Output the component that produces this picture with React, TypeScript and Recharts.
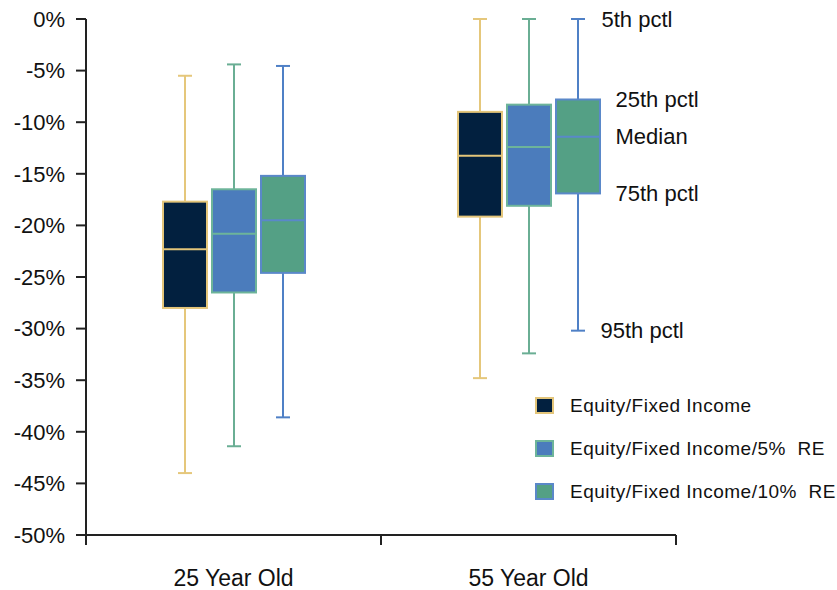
import React from 'react';
import { ComposedChart, Bar, XAxis, YAxis, ReferenceDot, Legend } from 'recharts';

const categories = ['25 Year Old', '55 Year Old'];
const seriesNames = ['Equity/Fixed Income', 'Equity/Fixed Income/5%  RE', 'Equity/Fixed Income/10%  RE'];
// per category: [5th pctl (top whisker), 25th pctl (box top), median, 75th pctl (box bottom), 95th pctl (bottom whisker)]
const eqFixed = [
  [-5.5, -17.7, -22.3, -28.0, -44.0],
  [0, -9.0, -13.25, -19.15, -34.8],
];
const eqFixed5RE = [
  [-4.4, -16.5, -20.8, -26.5, -41.4],
  [0, -8.3, -12.4, -18.1, -32.4],
];
const eqFixed10RE = [
  [-4.55, -15.2, -19.5, -24.6, -38.6],
  [0, -7.8, -11.4, -16.9, -30.2],
];
const yTicks = [-50, -45, -40, -35, -30, -25, -20, -15, -10, -5, 0];
const annotationLabels = ['5th pctl', '25th pctl', 'Median', '75th pctl', '95th pctl'];

const FONT = '"Liberation Sans", Arial, sans-serif';
const fills = ['#02203f', '#4b7cbc', '#54a085'];
const strokes = ['#e3c57a', '#6db49a', '#5a88c9'];
const whiskerColors = ['#e5c77b', '#6aae94', '#4f80c6'];

const allSeries = [eqFixed, eqFixed5RE, eqFixed10RE];
const rows = categories.map((c, ci) => {
  const r: any = { category: c };
  allSeries.forEach((s, si) => {
    r[`stats${si}`] = s[ci];
    r[`s${si}`] = [s[ci][4], s[ci][0]];
  });
  return r;
});

const BoxShape = (props: any) => {
  const { x, y, width, height, payload, idx } = props;
  const st = payload[`stats${idx}`];
  const hi = st[0];
  const lo = st[4];
  const py = (v: number) => y + ((hi - v) / (hi - lo)) * height;
  const cx = x + width / 2;
  const cap = 7;
  return (
    <g>
      <line x1={cx} x2={cx} y1={py(st[0])} y2={py(st[4])} stroke={whiskerColors[idx]} strokeWidth={2} />
      <line x1={cx - cap} x2={cx + cap} y1={py(st[0])} y2={py(st[0])} stroke={whiskerColors[idx]} strokeWidth={2} />
      <line x1={cx - cap} x2={cx + cap} y1={py(st[4])} y2={py(st[4])} stroke={whiskerColors[idx]} strokeWidth={2} />
      <rect x={x + 1} y={py(st[1])} width={width - 2} height={py(st[3]) - py(st[1])} fill={fills[idx]} stroke={strokes[idx]} strokeWidth={2} />
      <line x1={x + 1} x2={x + width - 1} y1={py(st[2])} y2={py(st[2])} stroke={strokes[idx]} strokeWidth={2} />
    </g>
  );
};

const XTick = (props: any) => {
  const { x, y, payload, index, visibleTicksCount } = props;
  const half = payload && typeof payload.offset === 'number' ? payload.offset : 0;
  const axisY = y - 35;
  return (
    <g>
      <line x1={x - half} x2={x - half} y1={axisY} y2={axisY + 10} stroke="#222" strokeWidth={2} />
      {index === visibleTicksCount - 1 && (
        <line x1={x + half} x2={x + half} y1={axisY} y2={axisY + 10} stroke="#222" strokeWidth={2} />
      )}
      <text x={x} y={y} dy="0.71em" textAnchor="middle" fontFamily={FONT} fontSize={23} fill="#111">
        {payload.value}
      </text>
    </g>
  );
};

const renderLegend = () => (
  <div style={{ fontFamily: FONT, fontSize: 19, color: '#111', letterSpacing: 0.5 }}>
    {seriesNames.map((n, i) => (
      <div key={n} style={{ display: 'flex', alignItems: 'center', height: 43 }}>
        <span
          style={{
            display: 'inline-block',
            width: 15,
            height: 13,
            background: fills[i],
            border: `2px solid ${strokes[i]}`,
            marginRight: 16,
          }}
        />
        <span style={{ whiteSpace: 'pre' }}>{n}</span>
      </div>
    ))}
  </div>
);

const annotationValues = eqFixed10RE[1];
const annotationDx = [73, 87, 87, 87, 72];

export default function App() {
  return (
    <div style={{ position: 'absolute', left: 0, top: 0, width: 837, height: 590, background: '#fff' }}>
      <ComposedChart
        width={837}
        height={590}
        data={rows}
        margin={{ top: 19, right: 161, bottom: 10, left: 0 }}
        barSize={46}
        barGap={3}
      >
        <XAxis
          dataKey="category"
          height={45}
          axisLine={{ stroke: '#222', strokeWidth: 2 }}
          tickLine={false}
          tickSize={10}
          tickMargin={25}
          tick={<XTick />}
          interval={0}
        />
        <YAxis
          type="number"
          domain={[-50, 0]}
          ticks={yTicks}
          width={86}
          tickSize={10}
          tickMargin={11}
          tickFormatter={(v: number) => `${v}%`}
          axisLine={{ stroke: '#222', strokeWidth: 2 }}
          tickLine={{ stroke: '#222', strokeWidth: 2 }}
          tick={{ fontFamily: FONT, fontSize: 22, fill: '#111' }}
          interval={0}
        />
        {allSeries.map((_, i) => (
          <Bar
            key={i}
            dataKey={`s${i}`}
            name={seriesNames[i]}
            fill={fills[i]}
            isAnimationActive={false}
            shape={(p: any) => <BoxShape {...p} idx={i} />}
          />
        ))}
        {annotationLabels.map((lab, i) => (
          <ReferenceDot
            key={lab}
            x={categories[1]}
            y={annotationValues[i]}
            r={0}
            fill="none"
            stroke="none"
            label={(p: any) => (
              <text
                x={p.viewBox.x + annotationDx[i]}
                y={p.viewBox.y}
                dy="0.35em"
                fontFamily={FONT}
                fontSize={22}
                fill="#111"
              >
                {lab}
              </text>
            )}
          />
        ))}
        <Legend
          layout="vertical"
          align="center"
          verticalAlign="middle"
          content={renderLegend}
          wrapperStyle={{ position: 'absolute', left: 535, top: 384, width: 302 }}
        />
      </ComposedChart>
    </div>
  );
}
